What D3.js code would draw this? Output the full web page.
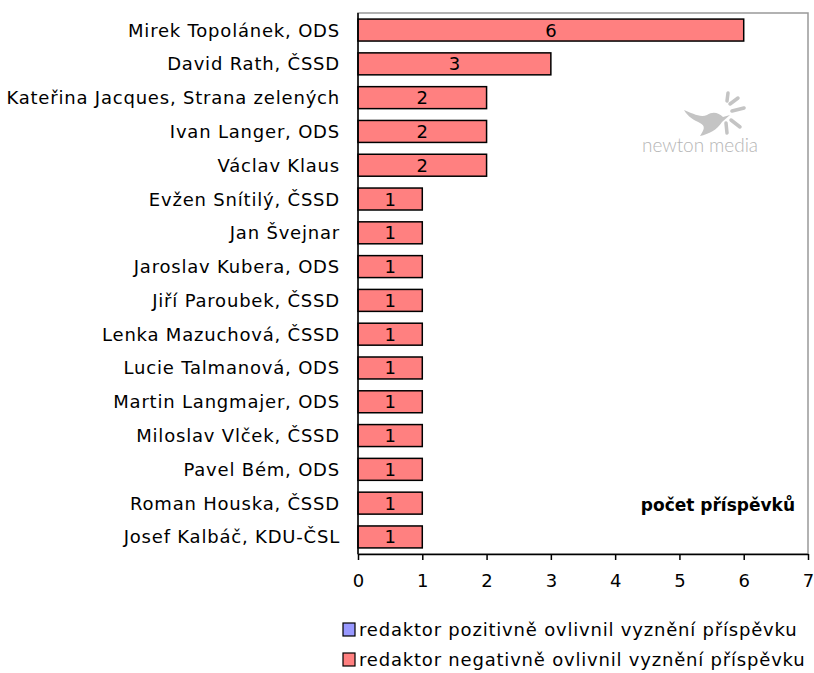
<!DOCTYPE html>
<html>
<head>
<meta charset="utf-8">
<title>Redaktoři</title>
<script src="https://cdn.jsdelivr.net/npm/d3@7"></script>
<style>
body { margin: 0; background: #fff; }
text { font-family: "DejaVu Sans", Verdana, sans-serif; fill: #000; }
.lbl { font-size: 18px; letter-spacing: 0.8px; }
.val { font-size: 18px; text-anchor: middle; }
.tick text { font-size: 18px; font-family: "DejaVu Sans", Verdana, sans-serif; }
</style>
</head>
<body>
<script>
var names = [
  "Mirek Topolánek, ODS", "David Rath, ČSSD", "Kateřina Jacques, Strana zelených",
  "Ivan Langer, ODS", "Václav Klaus", "Evžen Snítilý, ČSSD", "Jan Švejnar",
  "Jaroslav Kubera, ODS", "Jiří Paroubek, ČSSD", "Lenka Mazuchová, ČSSD",
  "Lucie Talmanová, ODS", "Martin Langmajer, ODS", "Miloslav Vlček, ČSSD",
  "Pavel Bém, ODS", "Roman Houska, ČSSD", "Josef Kalbáč, KDU-ČSL"
];
var positive = [0, 0, 0, 0, 0, 0, 0, 0, 0, 0, 0, 0, 0, 0, 0, 0];
var negative = [6, 3, 2, 2, 2, 1, 1, 1, 1, 1, 1, 1, 1, 1, 1, 1];
var xTicks = [0, 1, 2, 3, 4, 5, 6, 7];
var seriesNames = ["redaktor pozitivně ovlivnil vyznění příspěvku",
                   "redaktor negativně ovlivnil vyznění příspěvku"];
var seriesColors = ["#9999ff", "#ff8080"];

var width = 814, height = 673;
var plotL = 358, plotR = 808, plotT = 13, plotB = 554;

var svg = d3.select("body").append("svg")
  .attr("width", width).attr("height", height);

var x = d3.scaleLinear().domain([0, 7]).range([plotL, plotR]);
var y = d3.scaleBand().domain(names).range([plotT, plotB]).paddingInner(0.35).paddingOuter(0.18);

// plot frame
svg.append("rect")
  .attr("x", plotL).attr("y", plotT)
  .attr("width", plotR - plotL).attr("height", plotB - plotT)
  .attr("fill", "none").attr("stroke", "#999").attr("stroke-width", 1.5);

// watermark
var wm = svg.append("g").attr("fill", "#c4c4c4");
wm.append("text").attr("x", 700).attr("y", 152)
  .attr("text-anchor", "middle")
  .attr("textLength", 116)
  .style("font-family", "Lato, sans-serif").style("font-weight", 300)
  .style("font-size", "19px").style("fill", "#b5b5b5")
  .text("newton media");
wm.append("path")
  .attr("d", "M684,110 C692,113 700,118 707,115 C713,111 719,113 723,117 L730,115 L722,122 C717,130 709,134 700,136 C704,130 706,126 700,123 C694,120 688,117 684,110 Z");
[[730, 104, 738, 98], [732, 111, 744, 108], [727, 101, 728, 93], [731, 120, 740, 127], [726, 123, 727, 133]]
  .forEach(function(s) {
    wm.append("line").attr("x1", s[0]).attr("y1", s[1]).attr("x2", s[2]).attr("y2", s[3])
      .attr("stroke", "#c4c4c4").attr("stroke-width", 3.5).attr("stroke-linecap", "round");
  });

// bars
var rows = names.map(function(n, i) { return { name: n, pos: positive[i], neg: negative[i] }; });

svg.selectAll("rect.bar")
  .data(rows)
  .enter().append("rect")
    .attr("class", "bar")
    .attr("x", x(0))
    .attr("y", function(d) { return y(d.name); })
    .attr("width", function(d) { return x(d.pos + d.neg) - x(0); })
    .attr("height", y.bandwidth())
    .attr("fill", seriesColors[1])
    .attr("stroke", "#000").attr("stroke-width", 1.5);

svg.selectAll("text.val")
  .data(rows)
  .enter().append("text")
    .attr("class", "val")
    .attr("x", function(d) { return (x(0) + x(d.pos + d.neg)) / 2; })
    .attr("y", function(d) { return y(d.name) + y.bandwidth() / 2; })
    .attr("dy", "0.36em")
    .text(function(d) { return d.neg; });

// category labels
svg.selectAll("text.lbl")
  .data(names)
  .enter().append("text")
    .attr("class", "lbl")
    .attr("x", 340)
    .attr("y", function(d) { return y(d) + y.bandwidth() / 2; })
    .attr("dy", "0.36em")
    .attr("text-anchor", "end")
    .text(function(d) { return d; });

// axes
svg.append("line").attr("x1", plotL).attr("x2", plotL).attr("y1", plotT).attr("y2", plotB)
  .attr("stroke", "#000").attr("stroke-width", 1.5);

var xAxis = svg.append("g")
  .attr("transform", "translate(0," + plotB + ")")
  .call(d3.axisBottom(x).tickValues(xTicks).tickFormat(d3.format("d"))
    .tickSize(6).tickPadding(14).tickSizeOuter(0));
xAxis.select(".domain").attr("stroke-width", 1.5);
xAxis.selectAll(".tick line").attr("stroke-width", 1.5);

svg.append("text")
  .attr("x", 795).attr("y", 511)
  .attr("text-anchor", "end")
  .style("font-size", "17px").style("font-weight", "bold")
  .text("počet příspěvků");

// legend
var legend = svg.selectAll("g.legend")
  .data(seriesNames)
  .enter().append("g")
    .attr("class", "legend")
    .attr("transform", function(d, i) { return "translate(343," + (623 + i * 30) + ")"; });
legend.append("rect")
  .attr("width", 12).attr("height", 13)
  .attr("fill", function(d, i) { return seriesColors[i]; })
  .attr("stroke", "#000").attr("stroke-width", 1.2);
legend.append("text")
  .attr("class", "lbl")
  .attr("x", 16).attr("y", 7).attr("dy", "0.36em")
  .text(function(d) { return d; });
</script>
</body>
</html>
